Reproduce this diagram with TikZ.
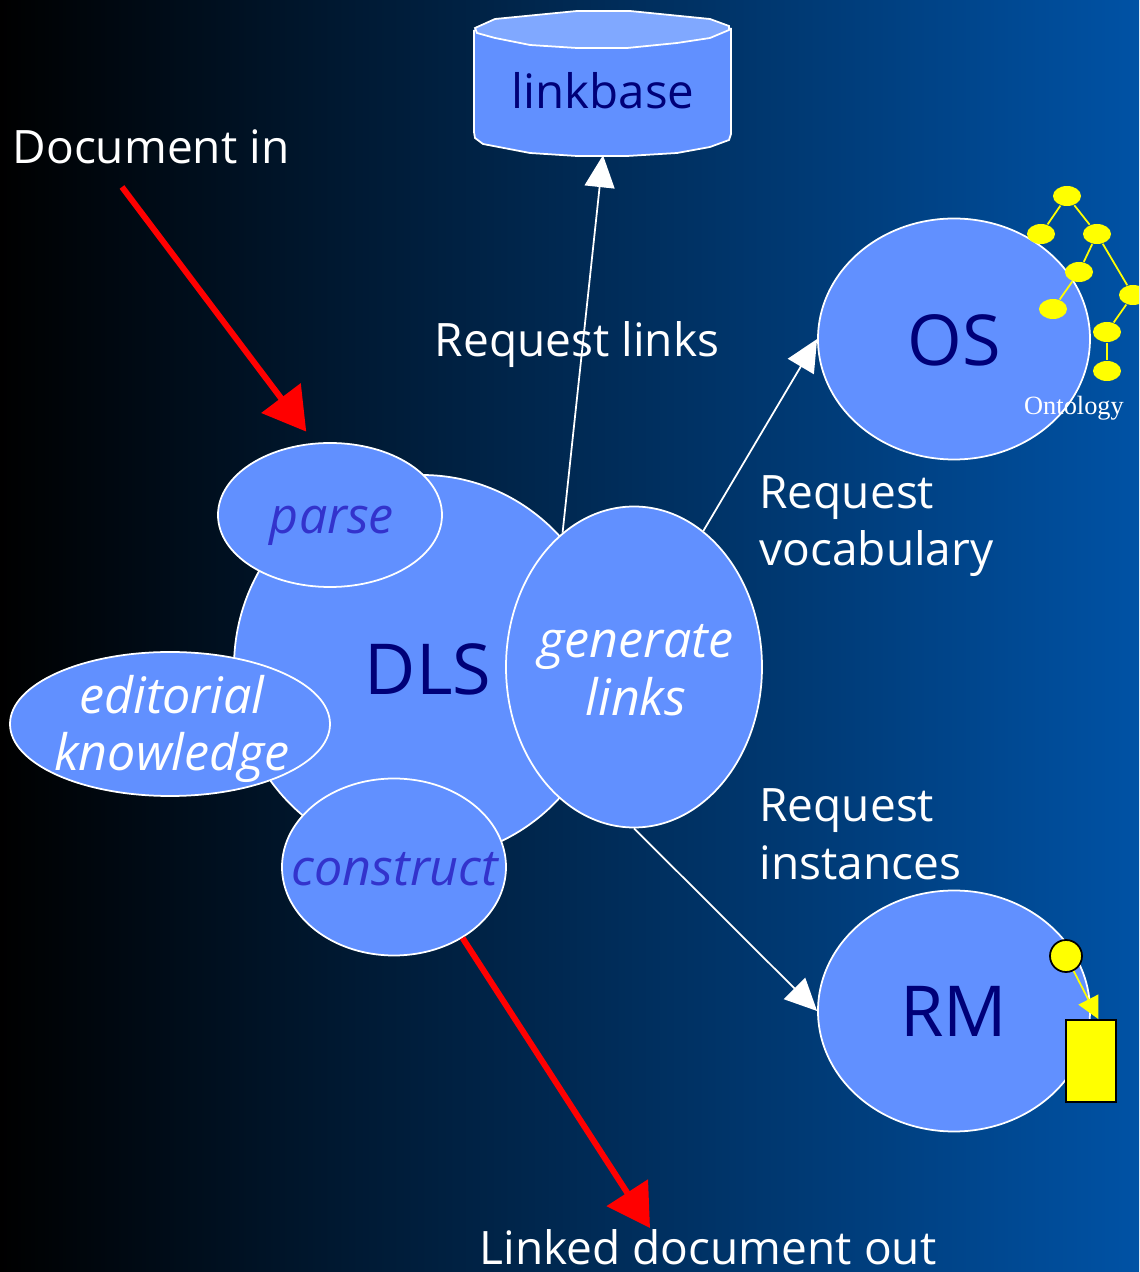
\documentclass[tikz,border=0pt]{standalone}
\usepackage{fontspec}
\setmainfont{Open Sans}
\newfontfamily\serifont{Liberation Serif}
\usetikzlibrary{shapes.geometric}
\usetikzlibrary{arrows.meta}

\definecolor{bgright}{RGB}{0,82,165}
\definecolor{blobfill}{RGB}{97,144,255}
\definecolor{lidfill}{RGB}{128,168,255}
\definecolor{navytext}{RGB}{0,0,120}
\definecolor{verbtext}{RGB}{51,51,204}
\definecolor{ontoyellow}{RGB}{255,255,0}

\tikzset{
  blob/.style={draw=white, line width=0.5pt, fill=blobfill, ellipse, inner sep=0pt},
  bigtext/.style={text=navytext, font=\fontsize{20}{24}\selectfont},
  verb/.style={font=\fontsize{14.3}{16.4}\selectfont\itshape, align=center},
  caption/.style={text=white, font=\fontsize{13.1}{16.4}\selectfont, align=left},
  request/.style={draw=white, line width=0.5pt, -{Triangle[length=0.32cm, width=0.3cm, fill=white]}},
  docflow/.style={draw=red, line width=1.7pt, -{Triangle[length=0.42cm, width=0.48cm, fill=red]}},
  onto/.style={draw=none, fill=ontoyellow, ellipse, minimum width=0.28cm, minimum height=0.2cm, inner sep=0pt},
  ontoedge/.style={draw=ontoyellow, line width=0.5pt},
}

\begin{document}
\begin{tikzpicture}
% background
\coordinate (SW) at (0,0);
\coordinate (NE) at (11.39,12.72);
\path[use as bounding box, clip] (SW) rectangle (NE);
\shade[left color=black, right color=bgright] (SW) rectangle (NE);

% linkbase
\fill[blobfill] (4.75,12.44) -- (4.95,12.53) -- (5.77,12.61) -- (6.30,12.61) -- (7.10,12.53) --
(7.31,12.44) -- (7.31,11.38) -- (7.29,11.32) -- (7.10,11.25) -- (6.77,11.19) -- (6.27,11.16) --
(5.77,11.16) -- (5.30,11.19) -- (4.83,11.28) -- (4.75,11.34) -- (4.74,11.40) -- (4.74,12.42) -- cycle;
\draw[draw=white, line width=0.5pt, fill=lidfill] (4.75,12.44) -- (4.95,12.53) -- (5.77,12.61) --
(6.30,12.61) -- (7.10,12.53) -- (7.29,12.46) -- (7.29,12.42) -- (7.10,12.34) -- (6.77,12.29) --
(6.27,12.24) -- (5.77,12.24) -- (5.30,12.27) -- (4.95,12.34) -- (4.77,12.39) -- cycle;
\draw[draw=white, line width=0.5pt] (4.74,12.42) -- (4.74,11.40) -- (4.75,11.34) -- (4.83,11.28) --
(5.30,11.19) -- (5.77,11.16) -- (6.27,11.16) -- (6.77,11.19) -- (7.10,11.25) -- (7.29,11.32) --
(7.31,11.38) -- (7.31,12.44);
\node[minimum width=2.57cm, minimum height=1.43cm, inner sep=0pt] (linkbase) at (6.03,11.89) {};
\node[text=navytext, font=\fontsize{13.5}{16.4}\selectfont] at (6.03,11.81) {linkbase};

% services
\node[blob, minimum width=3.76cm, minimum height=3.84cm] (DLS) at (4.22,6.05) {};
\node[bigtext] at (4.28,6.03) {DLS};
\node[blob, minimum width=2.72cm, minimum height=2.41cm] (OS) at (9.54,9.33) {};
\node[bigtext] at (9.54,9.32) {OS};
\node[blob, minimum width=2.72cm, minimum height=2.41cm] (RM) at (9.54,2.61) {};
\node[bigtext] at (9.54,2.61) {RM};

% tasks
\node[blob, minimum width=2.24cm, minimum height=1.44cm] (parse) at (3.30,7.57) {};
\node[blob, minimum width=3.20cm, minimum height=1.44cm] (editorial) at (1.70,5.48) {};
\node[blob, minimum width=2.24cm, minimum height=1.77cm] (construct) at (3.94,4.05) {};
\node[blob, minimum width=2.56cm, minimum height=3.21cm] (generate) at (6.34,6.05) {};

\begin{scope}[every node/.append style={verb}]
\node[text=verbtext] at (3.32,7.46) {parse};
\node[text=white] at (1.72,5.43) {editorial\\knowledge};
\node[text=verbtext] at (3.95,4.03) {construct};
\node[text=white] at (6.36,6.02) {generate\\links};
\end{scope}

% requests
\draw[request] (generate.118) -- (linkbase.south);
\draw[request] (generate.63) -- (OS.west);
\draw[request] (generate.south) -- (RM.west);

% labels
\node[caption] (docin) at (1.51,11.25) {Document in};
\node[caption] (reqlinks) at (5.77,9.27) {Request links};
\node[caption, anchor=west] (reqvocab) at (7.47,7.46) {Request\\vocabulary};
\node[caption, anchor=west] (reqinst) at (7.47,4.38) {Request\\instances};
\node[caption] (docout) at (7.08,0.25) {Linked document out};

% document flow
\coordinate (inStart) at (1.22,10.85);
\coordinate (outEnd) at (6.50,0.44);
\draw[docflow, shorten >=0.14cm] (inStart) -- (parse.102);
\draw[docflow] (construct.-46) -- (outEnd);

% ontology tree
\begin{scope}[every node/.style={onto}]
\node (n1) at (10.67,10.76) {};
\node (n2) at (10.41,10.38) {};
\node (n3) at (10.97,10.38) {};
\node (n4) at (10.79,10.00) {};
\node (n5) at (10.53,9.63) {};
\node (n6) at (11.33,9.77) {};
\node (n7) at (11.07,9.40) {};
\node (n8) at (11.07,9.01) {};
\end{scope}
\draw[ontoedge] (n1) -- (n2);
\draw[ontoedge] (n1) -- (n3);
\draw[ontoedge] (n3) -- (n4);
\draw[ontoedge] (n4) -- (n5);
\draw[ontoedge] (n3) -- (n6);
\draw[ontoedge] (n6) -- (n7);
\draw[ontoedge] (n7) -- (n8);
\node[text=white, font=\serifont\fontsize{7.5}{9}\selectfont] (ontology) at (10.74,8.64) {Ontology};

% instance
\node[draw=black, line width=0.5pt, fill=ontoyellow, circle, minimum size=0.32cm, inner sep=0pt] (inst) at (10.66,3.16) {};
\node[draw=black, line width=0.5pt, fill=ontoyellow, rectangle, minimum width=0.50cm, minimum height=0.82cm, inner sep=0pt] (doc) at (10.91,2.11) {};
\draw[draw=ontoyellow, line width=0.5pt, -{Triangle[length=0.22cm, width=0.22cm, fill=ontoyellow]}] (inst) -- (doc.80);

\end{tikzpicture}
\end{document}
